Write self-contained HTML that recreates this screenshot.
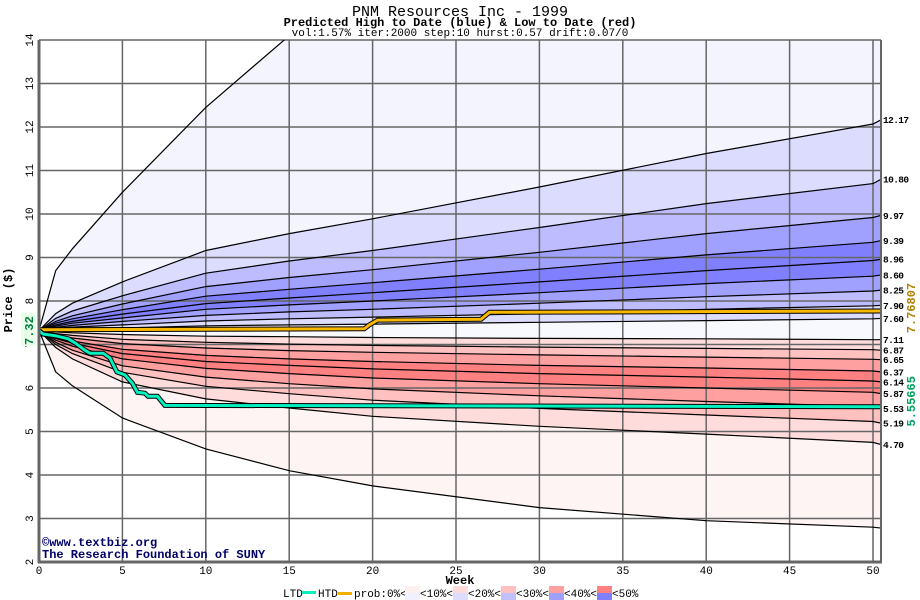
<!DOCTYPE html>
<html><head><meta charset="utf-8"><style>
html,body{margin:0;padding:0;background:#fff;}
svg{display:block;font-family:"Liberation Mono","DejaVu Sans Mono",monospace;}
</style></head><body>
<svg id="chart" width="920" height="600" viewBox="0 0 920 600">
<defs><clipPath id="plotclip"><rect x="39" y="40" width="842" height="522"/></clipPath></defs>
<text x="460" y="16" text-anchor="middle" font-size="15">PNM Resources Inc - 1999</text>
<text x="460" y="26" text-anchor="middle" font-size="12" font-weight="bold">Predicted High to Date (blue) &amp;  Low to Date (red)</text>
<text x="460" y="36" text-anchor="middle" font-size="11">vol:1.57% iter:2000 step:10 hurst:0.57 drift:0.07/0</text>
<g id="fills" clip-path="url(#plotclip)"></g>
<g id="grid"></g>
<g id="curves" clip-path="url(#plotclip)"></g>
<g id="paths" clip-path="url(#plotclip)"></g>
<g id="axes"></g>
<g id="labels"></g>
<text x="12" y="300" transform="rotate(-90 12 300)" text-anchor="middle" font-size="12" font-weight="bold">Price ($)</text>
<text x="460" y="584" text-anchor="middle" font-size="12" font-weight="bold">Week</text>
<text x="42" y="546" font-size="12" font-weight="bold" fill="#000066">©www.textbiz.org</text>
<text x="42" y="558" font-size="12" font-weight="bold" fill="#000066">The Research Foundation of SUNY</text>
<g id="legend">
<text x="283" y="597" font-size="11">LTD</text>
<rect x="302" y="591" width="14" height="3" fill="#00f0c0"/>
<text x="318" y="597" font-size="11">HTD</text>
<rect x="338" y="592" width="14" height="3" fill="#f0b000"/>
<text x="354" y="597" font-size="11">prob:0%&lt;</text>
</g>
</svg>
<script>
const weeks = [0, 1, 2, 5, 10, 15, 20, 30, 40, 50, 50.5];
const topEnv = [7.32, 8.7, 9.2, 10.5, 12.45, 14.1, 15, 16, 17, 18, 18];
const q1217 = [7.32, 7.71, 7.95, 8.44, 9.16, 9.55, 9.89, 10.62, 11.39, 12.07, 12.17];
const q1080 = [7.32, 7.60, 7.77, 8.12, 8.64, 8.92, 9.16, 9.69, 10.24, 10.70, 10.80];
const q997 = [7.32, 7.53, 7.66, 7.93, 8.33, 8.54, 8.72, 9.12, 9.55, 9.92, 9.97];
const q939 = [7.32, 7.49, 7.59, 7.80, 8.11, 8.27, 8.42, 8.73, 9.06, 9.35, 9.39];
const q896 = [7.32, 7.45, 7.53, 7.70, 7.94, 8.07, 8.19, 8.44, 8.70, 8.93, 8.96];
const q860 = [7.32, 7.42, 7.49, 7.61, 7.81, 7.91, 8.00, 8.19, 8.40, 8.57, 8.60];
const q825 = [7.32, 7.39, 7.44, 7.53, 7.67, 7.75, 7.81, 7.95, 8.10, 8.23, 8.25];
const q790 = [7.32, 7.37, 7.40, 7.45, 7.54, 7.59, 7.63, 7.71, 7.81, 7.89, 7.90];
const q760 = [7.32, 7.34, 7.36, 7.38, 7.43, 7.45, 7.47, 7.51, 7.55, 7.59, 7.60];
const q711 = [7.32, 7.29, 7.27, 7.23, 7.19, 7.18, 7.16, 7.14, 7.13, 7.11, 7.11];
const q687 = [7.32, 7.25, 7.21, 7.12, 7.05, 7.01, 6.98, 6.94, 6.91, 6.88, 6.87];
const q665 = [7.32, 7.22, 7.15, 7.02, 6.92, 6.86, 6.82, 6.76, 6.71, 6.66, 6.65];
const q637 = [7.32, 7.18, 7.08, 6.89, 6.75, 6.67, 6.61, 6.52, 6.46, 6.39, 6.37];
const q614 = [7.32, 7.14, 7.03, 6.79, 6.61, 6.52, 6.44, 6.33, 6.25, 6.16, 6.14];
const q587 = [7.32, 7.10, 6.96, 6.67, 6.45, 6.33, 6.23, 6.10, 6.00, 5.90, 5.87];
const q553 = [7.32, 7.05, 6.87, 6.51, 6.25, 6.10, 5.98, 5.82, 5.69, 5.57, 5.53];
const q519 = [7.32, 7.00, 6.79, 6.36, 6.04, 5.87, 5.72, 5.53, 5.38, 5.23, 5.19];
const q470 = [7.32, 6.93, 6.67, 6.14, 5.75, 5.54, 5.35, 5.12, 4.94, 4.75, 4.70];
const botEnv = [7.32, 6.37, 6.05, 5.31, 4.6, 4.1, 3.75, 3.25, 2.95, 2.8, 2.78];
const endLabels = ["12.17","10.80","9.97","9.39","8.96","8.60","8.25","7.90","7.60","7.11","6.87","6.65","6.37","6.14","5.87","5.53","5.19","4.70"];
const htdWeeks = [0, 19.5, 19.8, 20.3, 26.5, 27, 50.5];
const htdValues = [7.34, 7.36, 7.45, 7.56, 7.58, 7.74, 7.77];
const ltdWeeks = [0, 0.25, 1, 1.75, 2.15, 2.75, 3.05, 3.85, 4.25, 4.67, 5.15, 5.6, 5.9, 6.35, 6.54, 7.1, 7.55, 50.5];
const ltdValues = [7.32, 7.24, 7.2, 7.13, 7.04, 6.87, 6.8, 6.8, 6.69, 6.37, 6.3, 6.11, 5.9, 5.88, 5.81, 5.81, 5.6, 5.57];
const xTicks = [0, 5, 10, 15, 20, 25, 30, 35, 40, 45, 50];
const yTicks = [2, 3, 4, 5, 6, 7, 8, 9, 10, 11, 12, 13, 14];
const htdFinal = "7.76807";
const ltdFinal = "5.55665";
const startPrice = "7.32";
const legendLabels = ["<10%<", "<20%<", "<30%<", "<40%<", "<50%"];

const NS = "http://www.w3.org/2000/svg";
const X0 = 39, PXW = 16.68, Y14 = 40, PXU = 43.5;
const xs = w => X0 + w * PXW;
const ys = v => Y14 + (14 - v) * PXU;
function mk(tag, attrs, parent) {
  const e = document.createElementNS(NS, tag);
  for (const k in attrs) e.setAttribute(k, attrs[k]);
  parent.appendChild(e);
  return e;
}
const curves = [topEnv,q1217,q1080,q997,q939,q896,q860,q825,q790,q760,q711,q687,q665,q637,q614,q587,q553,q519,q470,botEnv];
const bandColors = ["#f4f4ff","#dcdcff","#bcbcff","#a0a0ff","#8080ff","#8080ff","#a0a0ff","#bcbcff","#dcdcff","#f8f8ff","#ffdcdc","#ffc0c0","#ffa0a0","#ff8080","#ff8080","#ffa0a0","#ffc0c0","#ffdcdc","#fff4f4"];
const pts = arr => arr.map((v,i)=>xs(weeks[i]).toFixed(1)+","+ys(v).toFixed(1));
const fills = document.getElementById('fills');
for (let i = 0; i < curves.length - 1; i++) {
  const p = pts(curves[i]).concat(pts(curves[i+1]).reverse());
  const el = mk('polygon', {points: p.join(' '), fill: bandColors[i]}, fills);
  
  
}
const grid = document.getElementById('grid');
xTicks.forEach(t => {
  const el = mk('line', {x1: xs(t), x2: xs(t), y1: 40, y2: 562, stroke: '#666', 'stroke-width': 1.5}, grid);
  
  
});
yTicks.forEach(t => {
  const el = mk('line', {x1: 39, x2: 881, y1: ys(t), y2: ys(t), stroke: '#666', 'stroke-width': 1.5}, grid);
  
  
});
const cg = document.getElementById('curves');
curves.forEach(c => {
  const el = mk('polyline', {points: pts(c).join(' '), fill: 'none', stroke: '#000', 'stroke-width': 1.2}, cg);
  
  
});
const pg = document.getElementById('paths');
function stepPath(ws, vs) { return ws.map((w,i)=>xs(w).toFixed(1)+","+ys(vs[i]).toFixed(1)).join(' '); }
let el = mk('polyline', {points: stepPath(htdWeeks, htdValues), fill: 'none', stroke: '#000', 'stroke-width': 5}, pg);


el = mk('polyline', {points: stepPath(htdWeeks, htdValues), fill: 'none', stroke: '#f8b800', 'stroke-width': 3}, pg);


el = mk('polyline', {points: stepPath(ltdWeeks, ltdValues), fill: 'none', stroke: '#000', 'stroke-width': 5}, pg);


el = mk('polyline', {points: stepPath(ltdWeeks, ltdValues), fill: 'none', stroke: '#00f0c0', 'stroke-width': 3}, pg);


const ax = document.getElementById('axes');
el = mk('line', {x1: 39, x2: 39, y1: 40, y2: 563, stroke: '#666', 'stroke-width': 3}, ax);


el = mk('line', {x1: 38, x2: 882, y1: 562, y2: 562, stroke: '#666', 'stroke-width': 3}, ax);


el = mk('line', {x1: 881, x2: 881, y1: 40, y2: 562, stroke: '#666', 'stroke-width': 2}, ax);


const lg = document.getElementById('labels');
xTicks.forEach(t => {
  const e = mk('text', {x: xs(t), y: 574, 'text-anchor': 'middle', 'font-size': 11}, lg);
  e.textContent = t;
  
  
});
yTicks.forEach(t => {
  const y = ys(t);
  const e = mk('text', {x: 33, y: y, transform: `rotate(-90 33 ${y})`, 'text-anchor': 'middle', 'font-size': 11}, lg);
  e.textContent = t;
  
  
});
endLabels.forEach((lab, i) => {
  const v = curves[i+1][curves[i+1].length-1];
  const e = mk('text', {x: 883, y: ys(v) + 3.5, 'font-size': 9.5, 'font-weight': 'bold', 'letter-spacing': '-0.6'}, lg);
  e.textContent = lab;
  
  
});
el = mk('rect', {x: 21, y: 313, width: 15, height: 33, fill: '#e8ffe8'}, lg);


let ty = ys(parseFloat(startPrice));
el = mk('text', {x: 33, y: ty, transform: `rotate(-90 33 ${ty})`, 'text-anchor': 'middle', 'font-size': 12, 'font-weight': 'bold', fill: '#008040'}, lg);
el.textContent = startPrice;


ty = ys(parseFloat(htdFinal)) - 3;
el = mk('text', {x: 915, y: ty, transform: `rotate(-90 915 ${ty})`, 'text-anchor': 'middle', 'font-size': 12, 'font-weight': 'bold', fill: '#b08000'}, lg);
el.textContent = htdFinal;


ty = ys(parseFloat(ltdFinal)) - 6;
el = mk('text', {x: 915, y: ty, transform: `rotate(-90 915 ${ty})`, 'text-anchor': 'middle', 'font-size': 12, 'font-weight': 'bold', fill: '#00a060'}, lg);
el.textContent = ltdFinal;


const leg = document.getElementById('legend');
const pinks = ["#fff0f0","#ffdcdc","#ffc0c0","#ffa0a0","#ff8080"];
const blues = ["#f0f0ff","#dcdcff","#c0c0ff","#a0a0ff","#8080ff"];
legendLabels.forEach((lab, i) => {
  const x = 405 + i * 48;
  let r = mk('rect', {x: x, y: 586, width: 15, height: 7, fill: pinks[i]}, leg);
  
  
  r = mk('rect', {x: x, y: 593, width: 15, height: 7, fill: blues[i]}, leg);
  
  
  const t = mk('text', {x: x + 15, y: 597, 'font-size': 11}, leg);
  t.textContent = lab;
  
  
});
</script>
</body></html>
